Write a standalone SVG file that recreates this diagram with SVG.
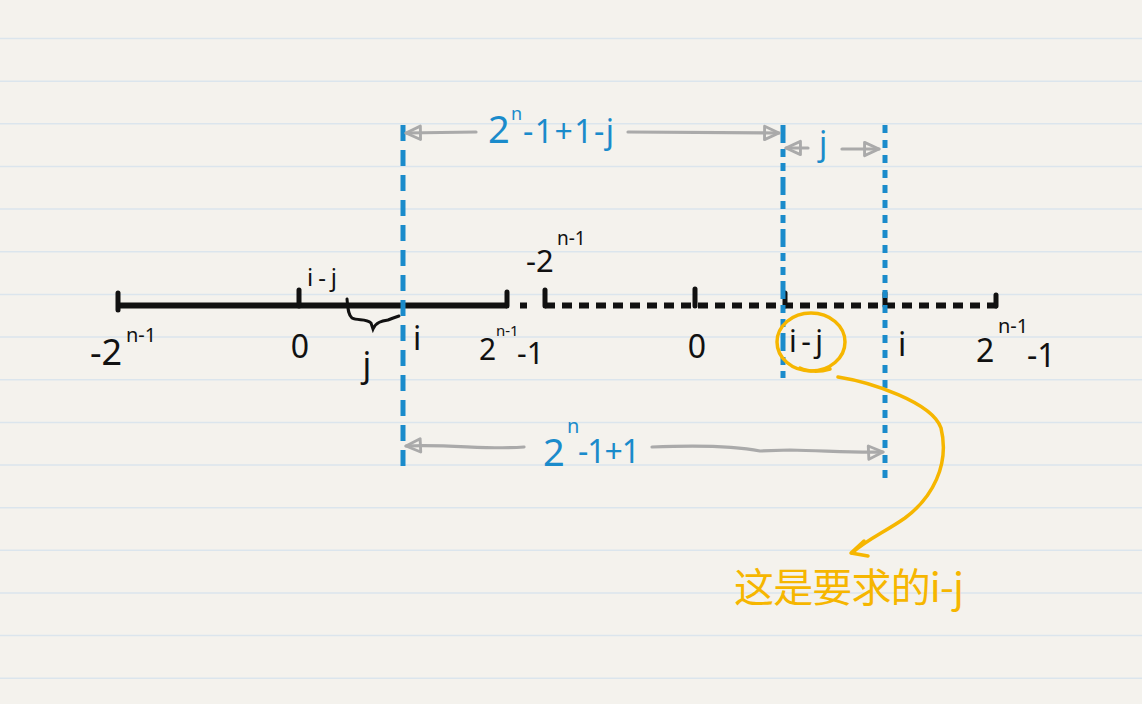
<svg xmlns="http://www.w3.org/2000/svg" width="1142" height="704" viewBox="0 0 1142 704">
<style>
.rule{stroke:#dbe5ed;stroke-width:1.5}
.axis{stroke:#111;stroke-width:6;fill:none}
.tick{stroke:#111;stroke-width:5;stroke-linecap:round}
.vb{stroke:#1a8bcb;stroke-width:5;fill:none}
.ga{stroke:#aaa;stroke-width:3.2;fill:none;stroke-linecap:round}
.bk{font-family:"Noto Sans","Liberation Sans",sans-serif;fill:#111}
.bl{font-family:"Noto Sans","Liberation Sans",sans-serif;fill:#1a8bcb}
.or{stroke:#f6b600;stroke-width:3.5;fill:none;stroke-linecap:round;stroke-linejoin:round}
</style>
<defs>
<marker id="ah" markerUnits="userSpaceOnUse" markerWidth="20" markerHeight="20" viewBox="-2 -9 18 18" refX="13" refY="0" orient="auto-start-reverse">
<path d="M0,-6 L13,0 L0,6 Z" fill="none" stroke="#aaa" stroke-width="2.6" stroke-linejoin="round"/>
</marker>
</defs>
<rect width="1142" height="704" fill="#f4f2ed"/>
<g id="paper">
<line class="rule" x1="0" x2="1142" y1="38.5" y2="38.5"/>
<line class="rule" x1="0" x2="1142" y1="81.2" y2="81.2"/>
<line class="rule" x1="0" x2="1142" y1="123.8" y2="123.8"/>
<line class="rule" x1="0" x2="1142" y1="166.5" y2="166.5"/>
<line class="rule" x1="0" x2="1142" y1="209.1" y2="209.1"/>
<line class="rule" x1="0" x2="1142" y1="251.8" y2="251.8"/>
<line class="rule" x1="0" x2="1142" y1="294.4" y2="294.4"/>
<line class="rule" x1="0" x2="1142" y1="337.1" y2="337.1"/>
<line class="rule" x1="0" x2="1142" y1="379.7" y2="379.7"/>
<line class="rule" x1="0" x2="1142" y1="422.4" y2="422.4"/>
<line class="rule" x1="0" x2="1142" y1="465" y2="465"/>
<line class="rule" x1="0" x2="1142" y1="507.7" y2="507.7"/>
<line class="rule" x1="0" x2="1142" y1="550.3" y2="550.3"/>
<line class="rule" x1="0" x2="1142" y1="593" y2="593"/>
<line class="rule" x1="0" x2="1142" y1="635.6" y2="635.6"/>
<line class="rule" x1="0" x2="1142" y1="678.3" y2="678.3"/>
</g>
<g id="numberline">
<path class="axis" d="M118,305.5 H507"/>
<path class="axis" d="M520,305.5 H527"/>
<path class="axis" d="M545,305.5 H998" stroke-dasharray="10 7"/>
<line class="tick" x1="118" y1="293" x2="118" y2="310"/>
<line class="tick" x1="299" y1="290" x2="299" y2="306"/>
<line class="tick" x1="507" y1="292" x2="507" y2="306"/>
<line class="tick" x1="545" y1="290" x2="545" y2="306"/>
<line class="tick" x1="695" y1="289" x2="695" y2="306"/>
<line class="tick" x1="785" y1="293" x2="785" y2="306"/>
<line class="tick" x1="885" y1="293" x2="885" y2="306"/>
<line class="tick" x1="996" y1="295" x2="996" y2="306"/>
<path d="M347,299 C348,308 348,315 352,318 C358,321 366,318 371,323 L373,329 C376,322 382,321 388,320 C393,318 396,317 399,316" fill="none" stroke="#111" stroke-width="3" stroke-linecap="round"/>
</g>
<g id="blue-lines">
<line class="vb" x1="403" y1="125" x2="403" y2="471" stroke-dasharray="16 9"/>
<line class="vb" x1="783" y1="125" x2="783" y2="378" stroke-dasharray="18 6 8 6 8 6"/>
<line class="vb" x1="885" y1="125" x2="885" y2="485" stroke-dasharray="8 7"/>
</g>
<g id="connectors">
<path class="ga" d="M476,132 L406,133" marker-end="url(#ah)"/>
<path class="ga" d="M628,132 L779,133" marker-end="url(#ah)"/>
<path class="ga" d="M808,148 L786,148" marker-end="url(#ah)"/>
<path class="ga" d="M842,149 L879,149" marker-end="url(#ah)"/>
<path class="ga" d="M524,447 C490,450 450,444 406,446" marker-end="url(#ah)"/>
<path class="ga" d="M652,447 C700,445 740,447 760,451 L790,450 C830,451 860,453 883,452" marker-end="url(#ah)"/>
</g>
<g id="labels-black">
<text class="bk" x="90" y="365" font-size="36">-2<tspan x="126" y="342" font-size="20">n-1</tspan></text>
<text class="bk" x="300" y="358" font-size="32" text-anchor="middle">0</text>
<text class="bk" x="307" y="286" font-size="24" textLength="30" lengthAdjust="spacing">i-j</text>
<text class="bk" x="367" y="377" font-size="34" text-anchor="middle">j</text>
<text class="bk" x="413" y="350" font-size="32">i</text>
<text class="bk" x="479" y="360" font-size="30">2<tspan x="496" y="336" font-size="15">n-1</tspan><tspan x="517" y="364" font-size="30">-1</tspan></text>
<text class="bk" x="526" y="272" font-size="31">-2<tspan x="557" y="245" font-size="19">n-1</tspan></text>
<text class="bk" x="697" y="358" font-size="32" text-anchor="middle">0</text>
<text class="bk" x="789" y="352" font-size="30" textLength="34" lengthAdjust="spacing">i-j</text>
<text class="bk" x="898" y="356" font-size="32">i</text>
<text class="bk" x="976" y="362" font-size="32">2<tspan x="998" y="333" font-size="20">n-1</tspan><tspan x="1027" y="367" font-size="32">-1</tspan></text>
</g>
<g id="labels-blue">
<text class="bl" x="488" y="143" font-size="38">2<tspan x="511" y="120" font-size="18">n</tspan><tspan x="523" y="143" font-size="32" textLength="91" lengthAdjust="spacing">-1+1-j</tspan></text>
<text class="bl" x="819" y="155" font-size="32">j</text>
<text class="bl" x="543" y="466" font-size="38">2<tspan x="567" y="433" font-size="20">n</tspan><tspan x="578" y="463" font-size="32" textLength="62" lengthAdjust="spacing">-1+1</tspan></text>
</g>
<g id="annotation">
<ellipse class="or" cx="811" cy="342" rx="34" ry="29"/>
<path class="or" d="M800,368 C808,372 820,372 830,369" stroke-width="5"/>
<path class="or" d="M838,377 C870,382 932,402 941,428 C950,465 932,498 905,518 C885,532 866,540 852,553"/>
<path class="or" d="M864,541 L851,553 L868,556"/>
<text x="734" y="602" font-family="'Noto Sans CJK SC',sans-serif" font-size="40" fill="#f6b600" textLength="230" lengthAdjust="spacing">这是要求的i-j</text>
</g>
</svg>
